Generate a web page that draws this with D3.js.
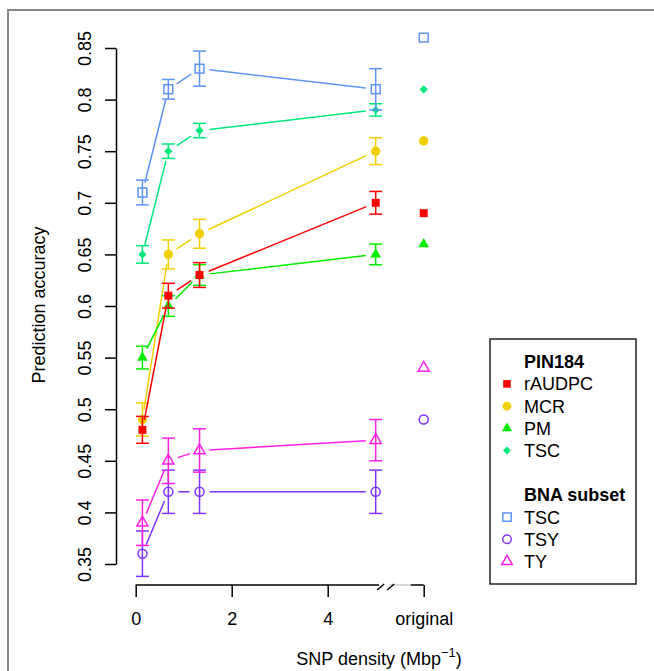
<!DOCTYPE html>
<html>
<head>
<meta charset="utf-8">
<script src="https://cdn.jsdelivr.net/npm/d3@7"></script>
<style>
  body { margin: 0; background: #fff; }
  svg { font-family: "Liberation Sans", Arial, sans-serif; }
</style>
</head>
<body>
<svg width="654" height="671"></svg>
<script>
// x positions of the subsampled SNP densities, "original" drawn at x = 6
const densities = [0.14, 0.68, 1.33, 5];
const originalX = 6;
const xTicks = [0, 2, 4, 6];
const yTicks = [0.35, 0.4, 0.45, 0.5, 0.55, 0.6, 0.65, 0.7, 0.75, 0.8, 0.85];

// PIN184
const rAUDPC = [0.48, 0.61, 0.63, 0.70];
const rAUDPCerr = [0.013, 0.012, 0.012, 0.011];
const MCR = [0.49, 0.65, 0.67, 0.75];
const MCRerr = [0.016, 0.014, 0.014, 0.013];
const PM = [0.55, 0.60, 0.63, 0.65];
const PMerr = [0.011, 0.010, 0.010, 0.010];
const pinTSC = [0.65, 0.75, 0.77, 0.79];
const pinTSCerr = [0.0085, 0.007, 0.007, 0.006];
// BNA subset
const bnaTSC = [0.71, 0.81, 0.83, 0.81];
const bnaTSCerr = [0.012, 0.0095, 0.017, 0.02];
const TSY = [0.36, 0.42, 0.42, 0.42];
const TSYerr = [0.022, 0.021, 0.021, 0.021];
const TY = [0.39, 0.45, 0.46, 0.47];
const TYerr = [0.022, 0.022, 0.021, 0.02];
// accuracy with the original marker set
const originalAcc = {rAUDPC: 0.69, MCR: 0.76, PM: 0.66, pinTSC: 0.81, bnaTSC: 0.86, TSY: 0.49, TY: 0.54};

const series = [
  {key: "pinTSC", label: "TSC", vals: pinTSC, err: pinTSCerr, color: "#00e87a", sym: "diamond", fill: true},
  {key: "bnaTSC", label: "TSC", vals: bnaTSC, err: bnaTSCerr, color: "#5f93f5", sym: "square", fill: false},
  {key: "TSY", label: "TSY", vals: TSY, err: TSYerr, color: "#7f33ff", sym: "circle", fill: false},
  {key: "TY", label: "TY", vals: TY, err: TYerr, color: "#ff1ee6", sym: "triangle", fill: false},
  {key: "MCR", label: "MCR", vals: MCR, err: MCRerr, color: "#f0d000", sym: "circle", fill: true},
  {key: "PM", label: "PM", vals: PM, err: PMerr, color: "#00ee00", sym: "triangle", fill: true},
  {key: "rAUDPC", label: "rAUDPC", vals: rAUDPC, err: rAUDPCerr, color: "#ff0000", sym: "square", fill: true}
];
const bykey = {};
series.forEach(s => bykey[s.key] = s);

const svg = d3.select("svg");

// outer gray frame
svg.append("rect").attr("x", 8).attr("y", 10).attr("width", 680).attr("height", 700)
  .attr("fill", "none").attr("stroke", "#888").attr("stroke-width", 2);

const x = d3.scaleLinear().domain([0, 6]).range([135.7, 423.7]);
const y = d3.scaleLinear().domain([0.35, 0.85]).range([564, 48]);

function symbolPath(s, small) {
  const k = small ? 0.9 : 1;
  if (s.sym == "square") return d3.symbol(d3.symbolSquare, (s.fill ? 64 : 78) * k)();
  if (s.sym == "circle") return d3.symbol(d3.symbolCircle, (s.fill ? 68 : 64) * k)();
  if (s.sym == "triangle") return d3.symbol(d3.symbolTriangle, (s.fill ? 50 : 54) * k)();
  return d3.symbol(d3.symbolSquare, 34 * k)();
}
function drawSymbol(g, s, cx, cy, small) {
  g.append("path")
    .attr("d", symbolPath(s, small))
    .attr("transform", "translate(" + cx + "," + cy + ")" + (s.sym == "diamond" ? "rotate(45)" : ""))
    .attr("fill", s.fill ? s.color : "none")
    .attr("stroke", s.fill ? "none" : s.color)
    .attr("stroke-width", 1.5);
}

// y axis (R style: line only across the tick range)
const yAxis = svg.append("g").attr("transform", "translate(116,0)")
  .call(d3.axisLeft(y).tickValues(yTicks).tickSize(11).tickSizeOuter(0).tickFormat(d => d3.format("")(+d.toFixed(2))));
yAxis.select(".domain").attr("stroke-width", 1.5);
yAxis.selectAll(".tick line").attr("stroke-width", 1.5);
yAxis.selectAll(".tick text")
  .attr("x", 0).attr("dy", 0)
  .attr("transform", "translate(-25.3,0) rotate(-90)")
  .attr("text-anchor", "middle")
  .attr("font-size", 18).attr("fill", "#000")
  .attr("font-family", "Liberation Sans, Arial, sans-serif");

// x axis with a break before "original"
const xAxis = svg.append("g").attr("transform", "translate(0,585)")
  .call(d3.axisBottom(x).tickValues(xTicks).tickSize(12).tickSizeOuter(0)
    .tickFormat(d => d == originalX ? "original" : d));
xAxis.select(".domain").remove();
xAxis.selectAll(".tick line").attr("stroke-width", 1.5);
xAxis.selectAll(".tick text")
  .attr("y", 40).attr("dy", 0)
  .attr("font-size", 18).attr("fill", "#000")
  .attr("font-family", "Liberation Sans, Arial, sans-serif");
const b0 = x(5.03), b1 = x(5.24);
xAxis.append("line").attr("x1", x(0)).attr("x2", b0 + 2).attr("y1", 0).attr("y2", 0)
  .attr("stroke", "#000").attr("stroke-width", 1.5);
xAxis.append("line").attr("x1", b1 + 2).attr("x2", x(5.73)).attr("y1", 0).attr("y2", 0)
  .attr("stroke", "#ccc").attr("stroke-width", 1.5);
xAxis.append("line").attr("x1", x(5.73)).attr("x2", x(6)).attr("y1", 0).attr("y2", 0)
  .attr("stroke", "#000").attr("stroke-width", 1.5);
[b0, b1].forEach(bx => {
  xAxis.append("line").attr("x1", bx).attr("y1", 5).attr("x2", bx + 7).attr("y2", -1)
    .attr("stroke", "#000").attr("stroke-width", 1.5);
});

// axis titles
svg.append("text").attr("transform", "translate(45,305) rotate(-90)")
  .attr("text-anchor", "middle").attr("font-size", 18).text("Prediction accuracy");
const xt = svg.append("text").attr("x", 379).attr("y", 665)
  .attr("text-anchor", "middle").attr("font-size", 18);
xt.append("tspan").text("SNP density (Mbp");
xt.append("tspan").attr("dy", -8).attr("font-size", 13).text("\u22121");
xt.append("tspan").attr("dy", 8).text(")");

// series: lines with gaps (type = "b"), error bars, points
const gap = 10;
const plot = svg.append("g");
series.forEach(s => {
  const g = plot.append("g");
  const pts = densities.map((d, i) => [x(d), y(s.vals[i])]);
  for (let i = 0; i < pts.length - 1; i++) {
    const [x1, y1] = pts[i], [x2, y2] = pts[i + 1];
    const len = Math.hypot(x2 - x1, y2 - y1);
    if (len <= 2 * gap) continue;
    const ux = (x2 - x1) / len, uy = (y2 - y1) / len;
    g.append("line")
      .attr("x1", x1 + ux * gap).attr("y1", y1 + uy * gap)
      .attr("x2", x2 - ux * gap).attr("y2", y2 - uy * gap)
      .attr("stroke", s.color).attr("stroke-width", 1.5);
  }
  densities.forEach((d, i) => {
    const cx = x(d), top = y(s.vals[i] + s.err[i]), bot = y(s.vals[i] - s.err[i]);
    g.append("line").attr("x1", cx).attr("x2", cx).attr("y1", top).attr("y2", bot)
      .attr("stroke", s.color).attr("stroke-width", 1.5);
    [top, bot].forEach(cy => g.append("line").attr("x1", cx - 6.5).attr("x2", cx + 6.5)
      .attr("y1", cy).attr("y2", cy).attr("stroke", s.color).attr("stroke-width", 1.5));
    drawSymbol(g, s, cx, y(s.vals[i]));
  });
  drawSymbol(g, s, x(originalX), y(originalAcc[s.key]));
});

// legend
const legend = svg.append("g");
legend.append("rect").attr("x", 490).attr("y", 339).attr("width", 146).attr("height", 245)
  .attr("fill", "#fff").attr("stroke", "#222").attr("stroke-width", 1.5);
const legendRows = [
  {head: "PIN184"}, bykey.rAUDPC, bykey.MCR, bykey.PM, bykey.pinTSC, null,
  {head: "BNA subset"}, bykey.bnaTSC, bykey.TSY, bykey.TY
];
legendRows.forEach((r, i) => {
  const cy = 361.7 + i * 22.2;
  if (!r) return;
  if (r.head) {
    legend.append("text").attr("x", 524).attr("y", cy + 6.5).attr("font-size", 18)
      .attr("font-weight", "bold").text(r.head);
    return;
  }
  drawSymbol(legend, r, 507, cy, true);
  legend.append("text").attr("x", 524).attr("y", cy + 6.5).attr("font-size", 18).text(r.label);
});
</script>
</body>
</html>
